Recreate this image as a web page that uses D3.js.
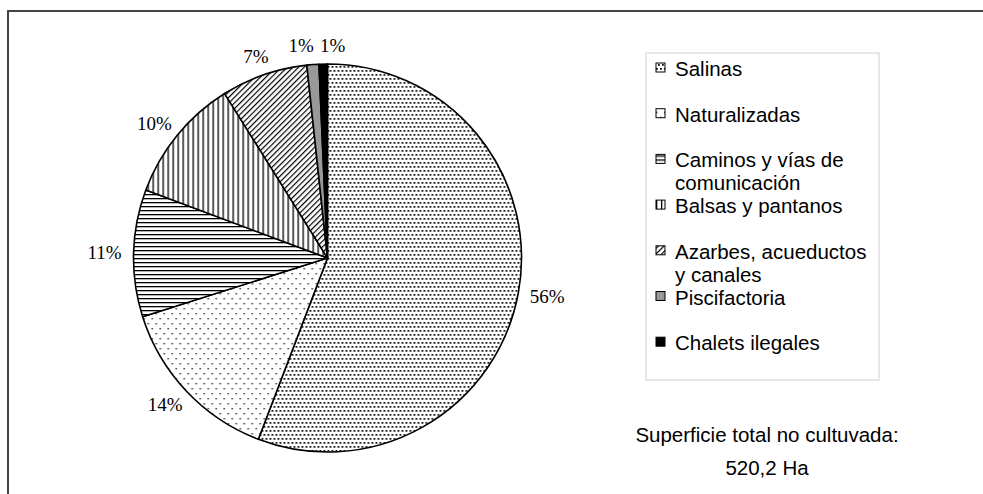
<!DOCTYPE html>
<html>
<head>
<meta charset="utf-8">
<script src="https://cdn.jsdelivr.net/npm/d3@7"></script>
<style>
  body { margin: 0; background: #fff; }
  svg { display: block; }
</style>
</head>
<body>
<div id="chart"></div>
<script>
// chart data (shares of the 520,2 Ha not cultivated)
var categories = ["Salinas", "Naturalizadas", "Caminos y vías de comunicación", "Balsas y pantanos",
                  "Azarbes, acueductos y canales", "Piscifactoria", "Chalets ilegales"];
var legendLines = [["Salinas"], ["Naturalizadas"], ["Caminos y vías de", "comunicación"], ["Balsas y pantanos"],
                   ["Azarbes, acueductos", "y canales"], ["Piscifactoria"], ["Chalets ilegales"]];
var shares = [55.8, 14.3, 10.6, 10.4, 7.2, 1.0, 0.7];
var fills = ["url(#pSalinas)", "url(#pNatural)", "url(#pCaminos)", "url(#pBalsas)", "url(#pAzarbes)", "#999999", "#000000"];
var totalLabel = ["Superficie total no cultuvada:", "520,2 Ha"];

var W = 983, H = 494;
var cx = 327.5, cy = 258, r = 194;

var svg = d3.select("#chart").append("svg")
    .attr("width", W)
    .attr("height", H);

// fill patterns
var defs = svg.append("defs");
function dotPattern(id, w, h, pts, s, col) {
  var p = defs.append("pattern").attr("id", id).attr("patternUnits", "userSpaceOnUse")
    .attr("width", w).attr("height", h);
  p.append("rect").attr("width", w).attr("height", h).attr("fill", "#fff");
  pts.forEach(function (q) {
    p.append("rect").attr("x", q[0]).attr("y", q[1]).attr("width", s).attr("height", s).attr("fill", col);
  });
}
dotPattern("pSalinas", 4, 8, [[0, 0], [2, 4]], 1.8, "#111");
dotPattern("pNatural", 8, 10, [[0, 0], [4, 5]], 1.4, "#222");

var pc = defs.append("pattern").attr("id", "pCaminos").attr("patternUnits", "userSpaceOnUse")
  .attr("width", 8).attr("height", 4);
pc.append("rect").attr("width", 8).attr("height", 4).attr("fill", "#fff");
pc.append("rect").attr("y", 0).attr("width", 8).attr("height", 1.3).attr("fill", "#000");

var pb = defs.append("pattern").attr("id", "pBalsas").attr("patternUnits", "userSpaceOnUse")
  .attr("width", 5).attr("height", 8);
pb.append("rect").attr("width", 5).attr("height", 8).attr("fill", "#fff");
pb.append("rect").attr("x", 0).attr("width", 1.3).attr("height", 8).attr("fill", "#000");

var pa = defs.append("pattern").attr("id", "pAzarbes").attr("patternUnits", "userSpaceOnUse")
  .attr("width", 4).attr("height", 4).attr("patternTransform", "rotate(45)");
pa.append("rect").attr("width", 4).attr("height", 4).attr("fill", "#fff");
pa.append("rect").attr("x", 0).attr("width", 1.2).attr("height", 4).attr("fill", "#000");

// outer frame
svg.append("path")
  .attr("d", "M8,494 L8,11 L983,11")
  .attr("fill", "none")
  .attr("stroke", "#444")
  .attr("stroke-width", 2);

// pie
var pie = d3.pie().sort(null).value(function (d) { return d; });
var arcs = pie(shares);
var total = d3.sum(shares);
var arc = d3.arc().innerRadius(0).outerRadius(r);

var g = svg.append("g").attr("transform", "translate(" + cx + "," + cy + ")");
g.selectAll("path.slice")
  .data(arcs)
  .enter().append("path")
  .attr("class", "slice")
  .attr("d", arc)
  .attr("fill", function (d, i) { return fills[i]; })
  .attr("stroke", "#000")
  .attr("stroke-width", 1.6)
  .attr("stroke-linejoin", "round");

// percent labels, placed just outside the rim
var labels = g.selectAll("text.pct")
  .data(arcs)
  .enter().append("text")
  .attr("class", "pct")
  .attr("text-anchor", "middle")
  .attr("dy", "0.35em")
  .style("font-family", "'Liberation Serif', 'Times New Roman', serif")
  .style("font-size", "19px")
  .attr("fill", "#000")
  .text(function (d) { return Math.round(d.value / total * 100) + "%"; });

var gap = 12, lh = 14;
var pos = [];
labels.each(function (d) {
  var a = (d.startAngle + d.endAngle) / 2;
  var w = this.getComputedTextLength();
  var px = (r + gap) * Math.sin(a), py = -(r + gap) * Math.cos(a);
  pos.push({x: px + Math.sin(a) * w / 2, y: py - Math.cos(a) * lh / 2, w: w});
});
// push apart labels that collide
for (var i = 1; i < pos.length; i++) {
  var A = pos[i - 1], B = pos[i];
  if (Math.abs(A.y - B.y) < lh && Math.abs(A.x - B.x) < (A.w + B.w) / 2 + 6) {
    var mid = (A.x + B.x) / 2, half = ((A.w + B.w) / 2 + 6) / 2;
    if (A.x > B.x) { A.x = mid + half; B.x = mid - half; } else { A.x = mid - half; B.x = mid + half; }
  }
}
labels.attr("x", function (d, i) { return pos[i].x; })
      .attr("y", function (d, i) { return pos[i].y; });

// legend
var lx = 646, ly = 53, lw = 233, lhBox = 327;
svg.append("rect")
  .attr("x", lx).attr("y", ly).attr("width", lw).attr("height", lhBox)
  .attr("fill", "#fff").attr("stroke", "#d8d8d8").attr("stroke-width", 1.2);

var step = 45.7;
var items = svg.selectAll("g.item")
  .data(categories)
  .enter().append("g")
  .attr("class", "item")
  .attr("transform", function (d, i) { return "translate(" + (lx + 10) + "," + (ly + 23 + i * step) + ")"; });

items.append("rect")
  .attr("x", 0).attr("y", -13).attr("width", 9).attr("height", 9)
  .attr("fill", function (d, i) { return fills[i]; })
  .attr("stroke", "#000").attr("stroke-width", 1);

items.append("text")
  .attr("x", 19)
  .style("font-family", "'Liberation Sans', Arial, sans-serif")
  .style("font-size", "20.5px")
  .attr("fill", "#000")
  .selectAll("tspan")
  .data(function (d, i) { return legendLines[i]; })
  .enter().append("tspan")
  .attr("x", 19)
  .attr("y", function (d, j) { return j * 23; })
  .text(function (d) { return d; });

// total surface note
svg.selectAll("text.note")
  .data(totalLabel)
  .enter().append("text")
  .attr("class", "note")
  .attr("x", 767)
  .attr("y", function (d, i) { return 442 + i * 33; })
  .attr("text-anchor", "middle")
  .style("font-family", "'Liberation Sans', Arial, sans-serif")
  .style("font-size", "20.5px")
  .attr("fill", "#000")
  .text(function (d) { return d; });
</script>
</body>
</html>
